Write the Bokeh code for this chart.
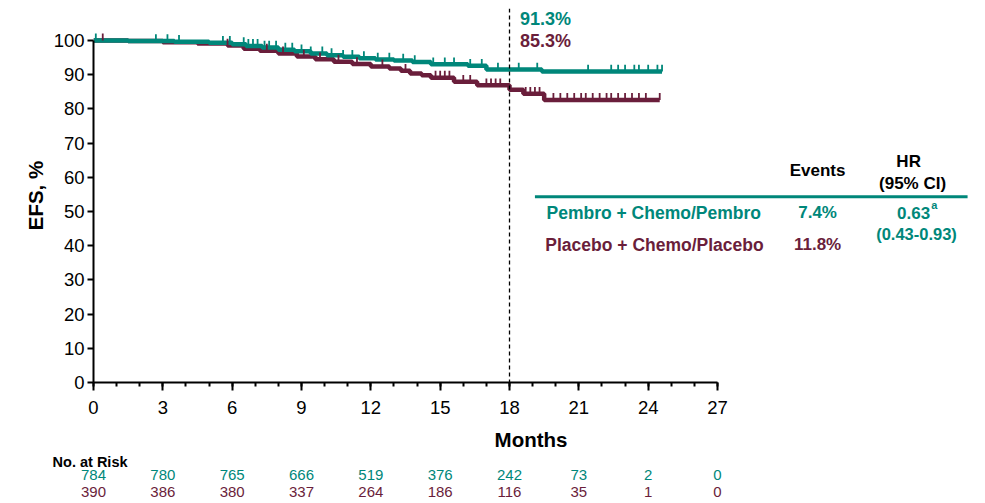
import numpy as np
from bokeh.plotting import figure
from bokeh.models import Range1d, FixedTicker, Span, ColumnDataSource
from bokeh.core.properties import value
from bokeh.embed import file_html
from bokeh.resources import INLINE

# ---------------- data ----------------
t_pem = [0, 1.5, 3.5, 5.0, 6.0, 6.6, 7.3, 8.0, 8.7, 9.4, 10.1, 10.8, 11.5, 12.2, 13.0, 13.8, 14.6, 16.2, 17.0, 19.4, 24.6]
s_pem = [100, 99.8, 99.6, 99.3, 98.9, 98.4, 97.9, 97.3, 96.8, 96.2, 95.7, 95.2, 94.8, 94.4, 94.1, 93.7, 93.0, 92.6, 91.5, 90.9, 90.9]

t_pla = [0, 1.5, 3.0, 4.5, 5.8, 6.5, 7.2, 8.0, 8.8, 9.6, 10.4, 11.2, 12.0, 12.8, 13.3, 13.7, 14.2, 14.6, 15.6, 16.6, 18.0, 18.6, 19.5, 24.5]
s_pla = [100, 99.8, 99.5, 99.1, 98.5, 97.6, 97.0, 96.2, 95.3, 94.5, 93.8, 93.1, 92.4, 91.8, 91.1, 90.3, 89.8, 89.1, 87.9, 86.9, 85.6, 84.4, 82.6, 82.6]

cens_pem = [0.1, 2.7, 3.2, 3.7, 5.6, 5.9, 6.5, 6.7, 6.9, 7.1, 7.4, 7.6, 7.9, 8.3, 8.6, 9.0, 9.4, 9.9,
            10.3, 10.8, 11.2, 11.7, 12.3, 12.8, 13.4, 13.9, 14.7, 15.2, 15.6, 16.3, 16.8, 17.5, 18.4,
            19.2, 21.4, 22.4, 22.7, 23.0, 23.4, 23.6, 24.0, 24.4, 24.6]
cens_pla = [0.4, 5.8, 7.5, 8.2, 9.1, 9.8, 10.6, 11.4, 12.5, 13.5, 14.8, 15.0, 15.2, 15.4, 16.0, 16.3,
            17.0, 17.2, 17.4, 17.6, 18.7, 18.9, 19.1, 19.3, 19.9, 20.2, 20.5, 20.8, 21.1, 21.3, 21.6,
            21.9, 22.2, 22.4, 22.7, 23.0, 23.3, 23.6, 23.9, 24.5]

landmark_month = 18
landmark_pem = "91.3%"
landmark_pla = "85.3%"

groups = ["Pembro + Chemo/Pembro", "Placebo + Chemo/Placebo"]
events = ["7.4%", "11.8%"]
hr_text = "0.63"
hr_sup = "a"
hr_ci = "(0.43-0.93)"

risk_months = [0, 3, 6, 9, 12, 15, 18, 21, 24, 27]
risk_pem = [784, 780, 765, 666, 519, 376, 242, 73, 2, 0]
risk_pla = [390, 386, 380, 337, 264, 186, 116, 35, 1, 0]

TEAL = "#00877A"
MAROON = "#6A1E3B"
FONT = "Liberation Sans"
PX_PER_MONTH = 23.11
LEFT = 93
WIDTH = 977

# ---------------- main plot ----------------
p = figure(width=WIDTH, height=453, x_range=Range1d(0, 37.86), y_range=Range1d(0, 109.33),
           output_backend="svg", toolbar_location=None,
           min_border_left=LEFT, min_border_right=9, min_border_top=8, min_border_bottom=70)
p.outline_line_color = None
p.grid.grid_line_color = None
p.background_fill_color = "white"

def step_at(ts, ss, t):
    idx = np.searchsorted(np.array(ts), np.array(t), side="right") - 1
    return np.array(ss)[idx]

p.step(t_pla, s_pla, mode="after", line_color=MAROON, line_width=4.5)
p.step(t_pem, s_pem, mode="after", line_color=TEAL, line_width=4.5)

yc = step_at(t_pla, s_pla, cens_pla)
p.segment(x0=cens_pla, y0=yc, x1=cens_pla, y1=yc + 2.0, line_color=MAROON, line_width=1.8)
yc = step_at(t_pem, s_pem, cens_pem)
p.segment(x0=cens_pem, y0=yc, x1=cens_pem, y1=yc + 2.0, line_color=TEAL, line_width=1.8)

p.add_layout(Span(location=landmark_month, dimension="height", line_color="black",
                  line_width=1.3, line_dash="4 3"))

p.text(x=[18.45], y=[106.4], text=[landmark_pem], text_color=TEAL, text_font=value(FONT),
       text_font_style="bold", text_font_size="18px", text_baseline="middle")
p.text(x=[18.45], y=[99.7], text=[landmark_pla], text_color=MAROON, text_font=value(FONT),
       text_font_style="bold", text_font_size="18px", text_baseline="middle")

# table
col_events = 31.33
p.text(x=[col_events], y=[62.1], text=["Events"], text_color="black", text_font=value(FONT),
       text_font_style="bold", text_font_size="17px", text_align="center", text_baseline="middle")
p.text(x=[35.27, 35.44], y=[64.7, 58.3], text=["HR", "(95% CI)"], text_color="black",
       text_font=value(FONT), text_font_style="bold", text_font_size="17px",
       text_align="center", text_baseline="middle")
p.segment(x0=[19.1], y0=[54.3], x1=[37.82], y1=[54.3], line_color=TEAL, line_width=3)
p.text(x=[19.6], y=[49.6], text=[groups[0]], text_color=TEAL, text_font=value(FONT),
       text_font_style="bold", text_font_size="17.5px", text_baseline="middle")
p.text(x=[19.55], y=[40.2], text=[groups[1]], text_color=MAROON, text_font=value(FONT),
       text_font_style="bold", text_font_size="17.5px", text_baseline="middle")
p.text(x=[col_events], y=[49.6], text=[events[0]], text_color=TEAL, text_font=value(FONT),
       text_font_style="bold", text_font_size="17px", text_align="center", text_baseline="middle")
p.text(x=[col_events], y=[40.2], text=[events[1]], text_color=MAROON, text_font=value(FONT),
       text_font_style="bold", text_font_size="17px", text_align="center", text_baseline="middle")
p.text(x=[36.2], y=[49.6], text=[hr_text], text_color=TEAL, text_font=value(FONT),
       text_font_style="bold", text_font_size="17px", text_align="right", text_baseline="middle")
p.text(x=[36.25], y=[51.9], text=[hr_sup], text_color=TEAL, text_font=value(FONT),
       text_font_style="bold", text_font_size="11px", text_align="left", text_baseline="middle")
p.text(x=[35.61], y=[43.3], text=[hr_ci], text_color=TEAL, text_font=value(FONT),
       text_font_style="bold", text_font_size="16.5px", text_align="center", text_baseline="middle")

# axes
xa = p.xaxis[0]
xa.ticker = FixedTicker(ticks=risk_months, minor_ticks=list(range(0, 28)))
xa.bounds = (0, 27)
xa.axis_label = "Months"
ya = p.yaxis[0]
ya.ticker = FixedTicker(ticks=list(range(0, 101, 10)), minor_ticks=[])
ya.bounds = (0, 100)
ya.axis_label = "EFS, %"
for ax in (xa, ya):
    ax.axis_line_width = 2
    ax.axis_line_color = "black"
    ax.major_tick_line_width = 2
    ax.major_tick_line_color = "black"
    ax.major_tick_in = 0
    ax.major_label_text_font = FONT
    ax.major_label_text_font_size = "18.5px"
    ax.major_label_text_color = "black"
    ax.axis_label_text_font = FONT
    ax.axis_label_text_font_style = "bold"
    ax.axis_label_text_font_size = "20.5px"
    ax.axis_label_text_color = "black"
xa.major_tick_out = 8
xa.minor_tick_out = 4
xa.minor_tick_in = 0
xa.minor_tick_line_width = 2
xa.minor_tick_line_color = "black"
xa.major_label_standoff = 10
xa.axis_label_standoff = 11
ya.major_tick_out = 6
ya.minor_tick_line_color = None
ya.major_label_standoff = 3
ya.axis_label_standoff = 4

# ---------------- at-risk table (own strip below) ----------------
r = figure(width=WIDTH, height=47,
           x_range=Range1d(-LEFT / PX_PER_MONTH, (WIDTH - LEFT) / PX_PER_MONTH), y_range=Range1d(0, 47),
           output_backend="svg", toolbar_location=None, x_axis_type=None, y_axis_type=None,
           min_border_left=0, min_border_right=0, min_border_top=0, min_border_bottom=0)
r.outline_line_color = None
r.grid.grid_line_color = None
r.text(x=[-1.77], y=[39.0], text=["No. at Risk"], text_color="black", text_font=value(FONT),
       text_font_style="bold", text_font_size="14.5px", text_baseline="middle")
src = ColumnDataSource(dict(x=risk_months, pem=[str(v) for v in risk_pem],
                            pla=[str(v) for v in risk_pla]))
r.text(x="x", y=25.5, text="pem", source=src, text_color=TEAL, text_font=value(FONT),
       text_font_size="15px", text_align="center", text_baseline="middle")
r.text(x="x", y=9, text="pla", source=src, text_color=MAROON, text_font=value(FONT),
       text_font_size="15px", text_align="center", text_baseline="middle")

open("out.html", "w").write(file_html([p, r], INLINE))
